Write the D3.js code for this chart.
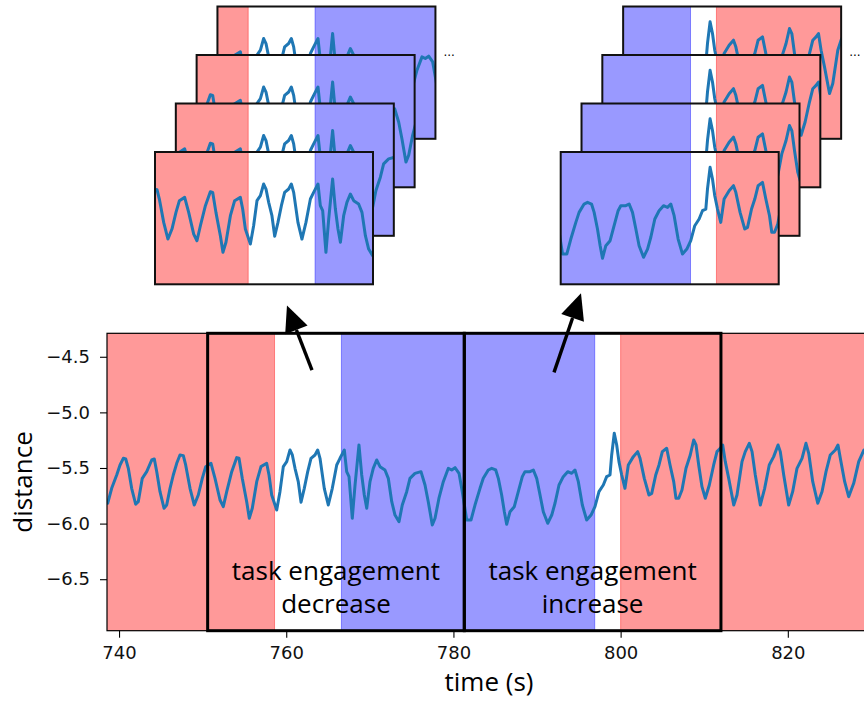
<!DOCTYPE html>
<html>
<head>
<meta charset="utf-8">
<script src="https://cdn.jsdelivr.net/npm/d3@7"></script>
<style>
  body { margin: 0; background: #fff; }
  svg { display: block; }
  .label { font-family: 'Open Sans', sans-serif; font-size: 26px; fill: #000; }
  .tick text { font-family: 'DejaVu Sans', sans-serif; font-size: 18px; fill: #111; }
</style>
</head>
<body>
<svg id="chart" width="864" height="701"></svg>
<script>
// head distance signal (time in s, distance)
const timeS = [738.64,739.12,739.72,740.12,740.51,740.80,741.11,741.51,741.99,742.30,742.78,743.31,743.91,744.22,744.51,744.90,745.38,745.70,746.10,746.49,746.90,747.29,747.69,747.97,748.49,749.00,749.48,749.96,750.37,751.00,751.48,752.08,752.47,752.88,753.48,754.07,754.35,754.74,755.27,755.58,755.94,756.47,756.98,757.66,757.94,758.26,758.86,759.25,759.65,760.06,760.45,760.73,761.05,761.44,761.77,762.16,762.57,762.96,763.44,763.76,764.04,764.55,765.03,765.51,766.04,766.43,766.95,767.23,767.51,767.90,768.23,768.70,769.03,769.34,769.63,770.02,770.41,770.82,771.22,771.81,772.21,772.62,773.01,773.49,773.88,774.41,774.80,775.40,776.12,776.60,776.99,777.47,777.80,778.27,778.79,779.39,779.79,780.19,780.67,781.06,781.59,782.10,782.58,783.18,783.57,784.17,784.58,785.06,785.37,785.77,786.09,786.37,786.77,787.28,787.76,788.24,788.56,789.16,789.56,789.96,790.36,790.75,791.28,791.76,792.15,792.63,793.14,793.67,794.15,794.54,794.94,795.42,795.94,796.46,796.93,797.41,797.93,798.33,798.73,798.93,799.24,799.53,799.80,800.13,800.52,800.92,801.52,802.04,802.32,802.83,803.39,803.72,804.20,804.59,804.99,805.51,805.91,806.35,806.62,806.95,807.34,807.82,808.33,808.74,809.02,809.34,809.73,810.13,810.61,811.13,811.53,811.92,812.21,812.52,812.93,813.53,813.92,814.52,814.91,815.39,815.72,816.11,816.71,817.23,817.78,818.31,818.83,819.10,819.51,820.10,820.58,821.10,821.70,822.17,822.50,822.98,823.58,824.09,824.57,825.08,825.68,826.00,826.28,826.80,827.28,827.88,828.48,829.11];
const distance = [-5.817,-5.683,-5.563,-5.473,-5.413,-5.419,-5.503,-5.683,-5.826,-5.803,-5.593,-5.533,-5.428,-5.419,-5.533,-5.713,-5.862,-5.833,-5.683,-5.563,-5.458,-5.383,-5.389,-5.473,-5.683,-5.833,-5.743,-5.593,-5.488,-5.458,-5.593,-5.788,-5.848,-5.713,-5.533,-5.407,-5.413,-5.593,-5.803,-5.952,-5.862,-5.623,-5.488,-5.458,-5.563,-5.743,-5.878,-5.713,-5.488,-5.443,-5.338,-5.383,-5.503,-5.623,-5.808,-5.683,-5.533,-5.413,-5.383,-5.338,-5.413,-5.683,-5.833,-5.683,-5.473,-5.413,-5.338,-5.533,-5.578,-5.952,-5.653,-5.293,-5.563,-5.743,-5.862,-5.623,-5.503,-5.428,-5.488,-5.518,-5.593,-5.803,-5.923,-5.983,-5.833,-5.713,-5.593,-5.548,-5.533,-5.653,-5.803,-6.013,-5.952,-5.772,-5.623,-5.503,-5.518,-5.497,-5.548,-5.713,-5.968,-5.968,-5.833,-5.683,-5.593,-5.518,-5.503,-5.518,-5.593,-5.743,-5.893,-6.006,-5.893,-5.848,-5.713,-5.578,-5.533,-5.533,-5.518,-5.593,-5.743,-5.893,-5.997,-5.923,-5.817,-5.653,-5.578,-5.533,-5.548,-5.518,-5.623,-5.833,-5.968,-5.923,-5.848,-5.713,-5.653,-5.578,-5.563,-5.383,-5.188,-5.293,-5.443,-5.563,-5.683,-5.473,-5.398,-5.353,-5.413,-5.593,-5.743,-5.728,-5.563,-5.473,-5.353,-5.323,-5.473,-5.623,-5.772,-5.772,-5.698,-5.503,-5.383,-5.248,-5.293,-5.473,-5.668,-5.772,-5.653,-5.473,-5.353,-5.323,-5.293,-5.443,-5.593,-5.833,-5.743,-5.443,-5.353,-5.278,-5.353,-5.563,-5.833,-5.683,-5.473,-5.398,-5.293,-5.353,-5.563,-5.833,-5.713,-5.503,-5.413,-5.278,-5.368,-5.623,-5.817,-5.713,-5.533,-5.383,-5.338,-5.293,-5.413,-5.623,-5.758,-5.638,-5.443,-5.338];

// shaded engagement spans
const spanStart = [730, 766.6, 800.0];
const spanEnd = [758.6, 796.9, 840];
const spanColor = ['red', 'blue', 'red'];

// black boxes + their captions
const boxStart = [750.6, 781.3];
const boxEnd = [781.3, 812.0];
const boxText = [['task engagement', 'decrease'], ['task engagement', 'increase']];

// arrows (data coords)
const arrowTail = [[763.08, -4.62], [792.03, -4.64]];
const arrowTip = [[760.09, -4.04], [795.26, -3.93]];

// sliding windows shown above
const windowStart = [747.45, 781.37];
const windowLen = 26.08;
const windowStep = 2.49;
const windowCount = 4;
const windowY = [-6.24, -5.05];

const xTicks = [740, 760, 780, 800, 820];
const yTicks = [-4.5, -5.0, -5.5, -6.0, -6.5];

const margin = { top: 333.3, left: 107, right: 871, bottom: 630.7 };
const lineColor = '#1f77b4';
const fills = { red: 'rgba(255,0,0,0.4)', blue: 'rgba(0,0,255,0.4)' };

const svg = d3.select('#chart');
const data = d3.zip(timeS, distance).map(([t, v]) => ({ t, v }));

const x = d3.scaleLinear().domain([738.56, 829.95]).range([margin.left, margin.right]);
const y = d3.scaleLinear().domain([-6.963, -4.289]).range([margin.bottom, margin.top]);

svg.append('defs')
  .append('clipPath')
  .attr('id', 'clip-main')
  .append('rect')
  .attr('x', margin.left)
  .attr('y', margin.top)
  .attr('width', margin.right - margin.left)
  .attr('height', margin.bottom - margin.top);

function drawSpans(g, xs, y0, y1) {
  g.selectAll('rect.span')
    .data(d3.range(spanStart.length))
    .join('rect')
    .attr('class', 'span')
    .attr('x', i => xs(spanStart[i]))
    .attr('width', i => xs(spanEnd[i]) - xs(spanStart[i]))
    .attr('y', y0)
    .attr('height', y1 - y0)
    .attr('fill', i => fills[spanColor[i]])
    .attr('stroke', i => fills[spanColor[i]])
    .attr('stroke-width', 1);
}

function drawMain() {
  const g = svg.append('g').attr('clip-path', 'url(#clip-main)');
  drawSpans(g, x, margin.top, margin.bottom);

  const line = d3.line().x(d => x(d.t)).y(d => y(d.v));
  g.append('path')
    .datum(data)
    .attr('d', line)
    .attr('fill', 'none')
    .attr('stroke', lineColor)
    .attr('stroke-width', 3)
    .attr('stroke-linejoin', 'round')
    .attr('stroke-linecap', 'round');

  // spines
  svg.append('rect')
    .attr('x', margin.left)
    .attr('y', margin.top)
    .attr('width', margin.right - margin.left)
    .attr('height', margin.bottom - margin.top)
    .attr('fill', 'none')
    .attr('stroke', '#000')
    .attr('stroke-width', 1.2);

  // boxes
  svg.selectAll('rect.box')
    .data(d3.range(boxStart.length))
    .join('rect')
    .attr('class', 'box')
    .attr('x', i => x(boxStart[i]))
    .attr('width', i => x(boxEnd[i]) - x(boxStart[i]))
    .attr('y', y(-4.289))
    .attr('height', y(-6.963) - y(-4.289))
    .attr('fill', 'none')
    .attr('stroke', '#000')
    .attr('stroke-width', 3);

  boxText.forEach((lines, i) => {
    const cx = x((boxStart[i] + boxEnd[i]) / 2);
    lines.forEach((txt, j) => {
      svg.append('text')
        .attr('class', 'label')
        .attr('x', cx)
        .attr('y', margin.bottom - 51 + j * 33)
        .attr('text-anchor', 'middle')
        .text(txt);
    });
  });

  const axisX = d3.axisBottom(x).tickValues(xTicks).tickSize(7).tickPadding(9).tickFormat(d3.format('d'));
  svg.append('g')
    .attr('transform', `translate(0,${margin.bottom})`)
    .call(axisX)
    .call(a => a.select('.domain').remove())
    .call(a => a.selectAll('.tick line').attr('stroke-width', 1.1));

  const axisY = d3.axisLeft(y).tickValues(yTicks).tickSize(7).tickPadding(10)
    .tickFormat(d => d3.format('.1f')(d).replace('-', '\u2212'));
  svg.append('g')
    .attr('transform', `translate(${margin.left},0)`)
    .call(axisY)
    .call(a => a.select('.domain').remove())
    .call(a => a.selectAll('.tick line').attr('stroke-width', 1.1));

  svg.append('text')
    .attr('class', 'label')
    .attr('x', (margin.left + margin.right) / 2)
    .attr('y', 691)
    .attr('text-anchor', 'middle')
    .text('time (s)');

  svg.append('text')
    .attr('class', 'label')
    .attr('transform', `translate(32,${(margin.top + margin.bottom) / 2}) rotate(-90)`)
    .attr('text-anchor', 'middle')
    .text('distance');
}

function drawArrows() {
  arrowTail.forEach((tail, i) => {
    const x0 = x(tail[0]), y0 = y(tail[1]);
    const x1 = x(arrowTip[i][0]), y1 = y(arrowTip[i][1]);
    const ang = Math.atan2(y1 - y0, x1 - x0);
    const headLen = 26, headW = 12;
    const bx = x1 - headLen * Math.cos(ang), by = y1 - headLen * Math.sin(ang);
    svg.append('line')
      .attr('x1', x0).attr('y1', y0)
      .attr('x2', bx).attr('y2', by)
      .attr('stroke', '#000')
      .attr('stroke-width', 3.4);
    const nx = -Math.sin(ang) * headW, ny = Math.cos(ang) * headW;
    svg.append('path')
      .attr('d', `M${x1},${y1}L${bx + nx},${by + ny}L${bx - nx},${by - ny}Z`)
      .attr('fill', '#000');
  });
}

function drawWindows() {
  const frontLeft = [155, 560.7];
  const frontTop = 152;
  const w = 218, h = 132.3;
  const dx = windowStep * w / windowLen;
  const dy = -48.5;

  windowStart.forEach((start, gi) => {
    for (let k = windowCount - 1; k >= 0; k--) {
      const rx = frontLeft[gi] + k * dx;
      const ry = frontTop + k * dy;
      const t0 = start + k * windowStep;
      const xs = d3.scaleLinear().domain([t0, t0 + windowLen]).range([rx, rx + w]);
      const ys = d3.scaleLinear().domain(windowY).range([ry + h, ry]);
      const id = `clip-w${gi}-${k}`;

      svg.select('defs').append('clipPath').attr('id', id)
        .append('rect').attr('x', rx).attr('y', ry).attr('width', w).attr('height', h);

      const g = svg.append('g');
      g.append('rect')
        .attr('x', rx).attr('y', ry).attr('width', w).attr('height', h)
        .attr('fill', '#fff');
      const inner = g.append('g').attr('clip-path', `url(#${id})`);
      drawSpans(inner, xs, ry, ry + h);
      inner.append('path')
        .datum(data.filter(d => d.t >= t0 - 1 && d.t <= t0 + windowLen + 1))
        .attr('d', d3.line().x(d => xs(d.t)).y(d => ys(d.v)))
        .attr('fill', 'none')
        .attr('stroke', lineColor)
        .attr('stroke-width', 3)
        .attr('stroke-linejoin', 'round');
      g.append('rect')
        .attr('x', rx).attr('y', ry).attr('width', w).attr('height', h)
        .attr('fill', 'none')
        .attr('stroke', '#111')
        .attr('stroke-width', 2);

      if (k === windowCount - 1) {
        svg.append('text')
          .attr('x', rx + w + 8)
          .attr('y', ry + 49)
          .attr('font-family', 'DejaVu Sans, sans-serif')
          .attr('font-size', 12)
          .text('...');
      }
    }
  });
}

drawMain();
drawArrows();
drawWindows();
</script>
</body>
</html>
